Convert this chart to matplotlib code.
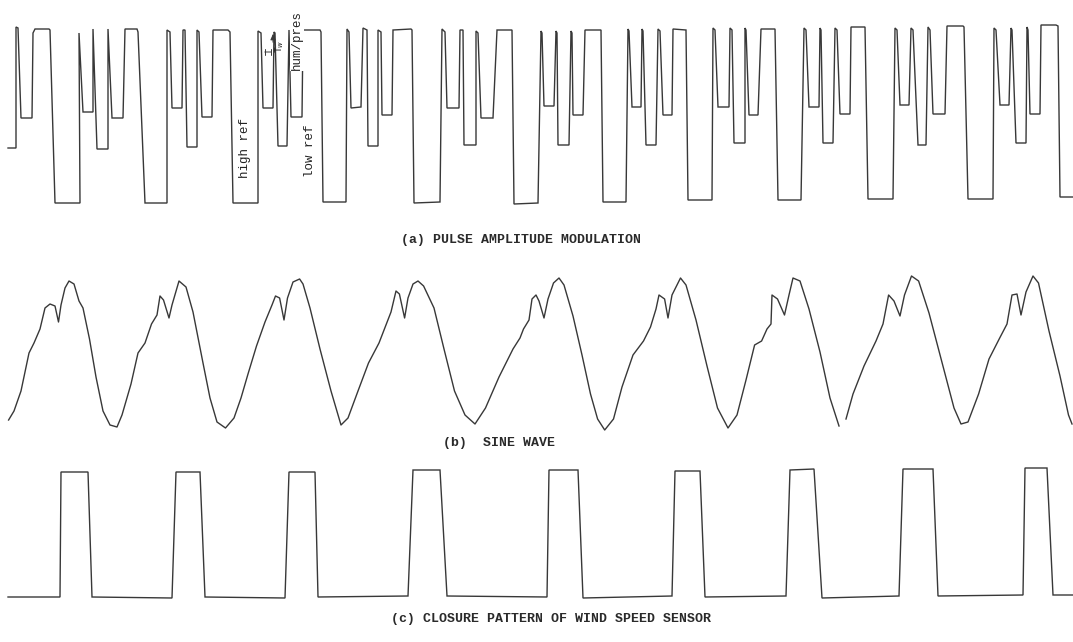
import matplotlib
matplotlib.use("Agg")
import matplotlib.pyplot as plt
import numpy as np

# ---------------- data ----------------
# (a) pulse amplitude modulation trace: time (arbitrary units) and amplitude
pam_t = [8, 16, 16, 18, 21, 32, 33, 35, 49, 50, 55, 80, 79, 83, 93, 93, 97, 108, 108, 112, 123, 125, 137, 138, 145,
         167, 167, 170, 172, 182, 183, 185, 187, 197, 197, 199, 202, 212, 213, 228, 230, 233,
         258, 258, 261, 263, 273, 274, 275, 278, 287, 289, 291, 302, 303, 320, 321, 323,
         346, 347, 349, 351, 361, 363, 367, 368, 378, 378, 381, 382, 392, 393, 411, 412, 414,
         440, 442, 445, 447, 459, 460, 463, 464, 476, 476, 478, 481, 493, 497, 512, 514,
         538, 541, 542, 544, 554, 556, 557, 558, 569, 571, 572, 573, 583, 585, 601, 603,
         626, 628, 629, 632, 641, 642, 643, 646, 656, 658, 660, 663, 672, 673, 686, 688,
         712, 713, 715, 718, 729, 730, 732, 734, 745, 745, 746, 749, 758, 761, 775, 778,
         801, 804, 806, 809, 819, 820, 821, 823, 833, 835, 837, 840, 850, 851, 865, 868,
         893, 895, 897, 900, 909, 911, 913, 918, 926, 928, 930, 933, 945, 947, 963, 964, 968,
         993, 994, 996, 1000, 1009, 1011, 1012, 1016, 1026, 1027, 1028, 1030, 1040, 1041, 1056, 1058, 1060, 1073]
pam_v = [55, 55, 176, 175, 85, 85, 170, 174, 174, 173, 0, 0, 170, 91, 91, 174, 54, 54, 174, 85, 85, 174, 174, 171, 0,
         0, 173, 171, 95, 95, 173, 173, 56, 56, 173, 171, 86, 86, 173, 173, 171, 0,
         0, 172, 170, 95, 95, 171, 170, 57, 57, 173, 86, 86, 173, 173, 171, 1,
         1, 174, 171, 95, 96, 175, 173, 57, 57, 173, 171, 88, 88, 173, 174, 173, 0,
         1, 174, 171, 95, 95, 173, 173, 58, 58, 172, 170, 85, 85, 173, 173, -1,
         0, 172, 170, 97, 97, 172, 170, 58, 58, 172, 170, 88, 88, 173, 173, 1,
         1, 174, 172, 96, 96, 174, 172, 58, 58, 174, 172, 88, 88, 174, 173, 3,
         3, 175, 173, 96, 96, 175, 173, 60, 60, 175, 173, 88, 88, 174, 174, 3,
         3, 175, 173, 96, 96, 175, 173, 60, 60, 175, 173, 89, 89, 176, 176, 4,
         4, 175, 173, 98, 98, 175, 173, 58, 58, 176, 173, 89, 89, 177, 177, 176, 4,
         4, 175, 173, 98, 98, 175, 173, 60, 60, 176, 173, 89, 89, 178, 178, 177, 6, 6]

# (b) sine wave trace (NaN = gap in the recorder trace)
sine_t = [8.6, 14, 21, 29, 34, 40, 45, 50, 55, 58.5, 61, 65, 69, 74, 79, 83, 89.5, 96, 103, 110, 117,
          122, 131, 138, 145, 151.5, 157, 160, 163.5, 169, 172, 179, 186, 193, 203, 210, 217, 225.5,
          234, 241, 248, 256.5, 265, 272, 275.5, 279.6, 284, 287.5, 293, 299.6, 303, 310, 320, 331, 341,
          348, 358, 368.5, 379, 386, 391, 396, 399.4, 404.6, 408, 413, 418, 423.6, 434, 444, 454.5, 465, 475,
          485.5, 499, 513, 520, 523.5, 529, 532, 536, 539, 544, 548, 553.5, 559, 564, 573, 582, 590.5, 597.6, 604.7,
          613.5, 622, 633, 643.5, 650.5, 656, 659, 664.6, 668, 672, 680.5, 686, 696, 707, 717.5, 728,
          737, 746, 754.6, 761.6, 767, 771, 772, 777.5, 784.5, 789, 793, 800, 809, 820, 830, 839, np.nan,
          846, 853, 864, 876, 883, 888.6, 894, 900, 904.5, 911.5, 918.6, 929, 943, 954, 961,
          968, 978.6, 989, 999.7, 1007, 1012, 1017, 1021, 1026, 1033, 1038.5, 1049, 1060, 1068.5, 1072]
sine_v = [10, 19, 39, 77, 87, 101, 122, 126, 124, 108, 125, 142, 149, 146, 129, 122, 91, 53, 19, 5, 3,
          15, 46, 77, 87, 106, 115, 134, 130, 112, 125, 149, 143, 118, 67, 32, 8, 2,
          12, 32, 56, 84, 108, 125, 134, 132, 110, 132, 148, 151, 146, 122, 81, 39, 5,
          12, 39, 67, 87, 105, 118, 139, 136, 112, 132, 146, 149, 144, 122, 81, 39, 15, 6,
          22, 53, 81, 92, 101, 110, 131, 135, 129, 112, 131, 147, 152, 145, 114, 75, 36, 11, 0,
          11, 43, 75, 89, 103, 121, 135, 131, 112, 135, 152, 145, 110, 64, 22, 2,
          15, 50, 85, 89, 101, 106, 135, 131, 115, 135, 152, 149, 121, 78, 32, 4, np.nan,
          11, 36, 64, 89, 106, 135, 129, 114, 135, 154, 149, 117, 64, 22, 6,
          8, 36, 71, 92, 106, 135, 136, 115, 138, 154, 147, 99, 54, 15, 6]

# (c) closure pattern of wind speed sensor
wind_t = [8, 60, 61, 65, 88, 92, 172, 176, 200, 205, 285, 289, 315, 318, 408, 413, 440, 447,
          547, 549, 578, 583, 672, 675, 700, 705, 786, 790, 814, 822, 899, 903, 933, 938,
          1023, 1025, 1047, 1053, 1073]
wind_v = [0, 0, 125, 125, 125, 0, -1, 125, 125, 0, -1, 125, 125, 0, 1, 127, 127, 1,
          0, 127, 127, -1, 1, 126, 126, 0, 1, 127, 128, -1, 1, 128, 128, 1,
          2, 129, 129, 2, 2]

captions = ["(a) PULSE AMPLITUDE MODULATION", "(b)  SINE WAVE",
            "(c) CLOSURE PATTERN OF WIND SPEED SENSOR"]

# ---------------- layout ----------------
W, H = 1073, 642
fig = plt.figure(figsize=(W / 100, H / 100), dpi=100)
fig.patch.set_facecolor("white")
ink = "#383838"
mono = ["Liberation Mono", "DejaVu Sans Mono"]


def band(top_px, bot_px, zero_px):
    ax = fig.add_axes([0, 1 - bot_px / H, 1, (bot_px - top_px) / H])
    ax.set_xlim(0, W)
    ax.set_ylim(zero_px - bot_px, zero_px - top_px)
    ax.axis("off")
    return ax


ax1 = band(0, 225, 203)
ax1.plot(pam_t, pam_v, color=ink, lw=1.0, solid_joinstyle="miter")
ax1.text(245, 55, "high ref", rotation=90, ha="center", va="center",
         family=mono, fontsize=9, color="#222222")
ax1.text(310, 52, "low ref", rotation=90, ha="center", va="center",
         family=mono, fontsize=9, color="#222222")
ax1.text(297, 163, "hum/pres", rotation=90, ha="center", va="center",
         family=mono, fontsize=9, color="#222222",
         bbox=dict(facecolor="white", edgecolor="none", pad=1.0))
ax1.annotate("", xy=(262, 151), xytext=(274, 151),
             arrowprops=dict(arrowstyle="|-|,widthA=0.25,widthB=0.25", color=ink, lw=0.7))
ax1.annotate("", xy=(273, 172), xytext=(273, 158),
             arrowprops=dict(arrowstyle="-|>,head_width=0.15,head_length=0.35", color=ink, lw=0.7))
ax1.text(280, 157, r"T$_w$", rotation=90, ha="center", va="center",
         family=mono, fontsize=7, color="#222222")

ax2 = band(255, 432, 430)
ax2.plot(sine_t, sine_v, color=ink, lw=1.0)

ax3 = band(455, 605, 597)
ax3.plot(wind_t, wind_v, color=ink, lw=1.0, solid_joinstyle="miter")

cap_style = dict(ha="center", va="center", family=mono, fontsize=9.5,
                 fontweight="bold", color="#2a2a2a")
fig.text(521 / W, 1 - 240 / H, captions[0], **cap_style)
fig.text(499 / W, 1 - 443 / H, captions[1], **cap_style)
fig.text(551 / W, 1 - 619 / H, captions[2], **cap_style)

fig.savefig("out.png", dpi=100, facecolor="white")
